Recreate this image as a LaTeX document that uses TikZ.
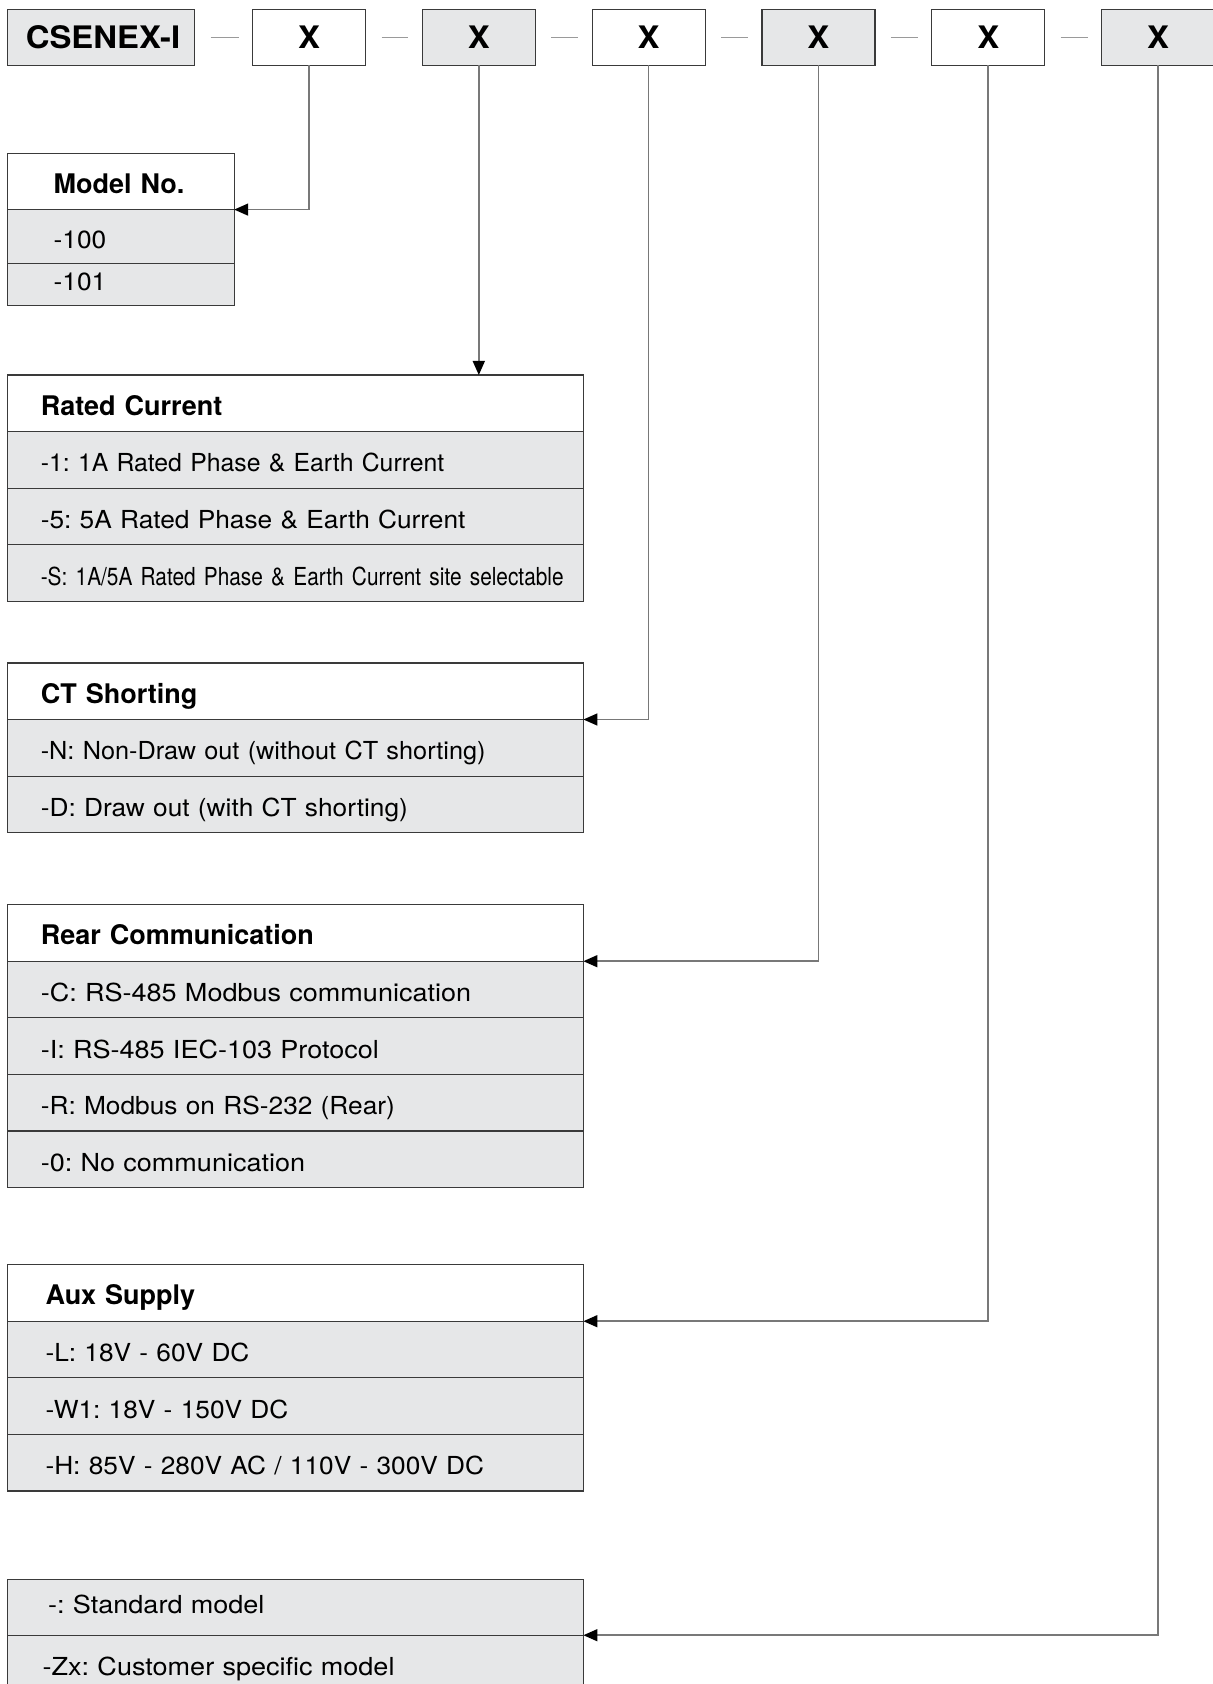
\documentclass[tikz,border=0pt]{standalone}
\usepackage{fontspec}
\setmainfont{TeX Gyre Heros}
\newfontfamily\bodyfont[FakeStretch=1.06]{TeX Gyre Heros}
\newfontfamily\broadfont[FakeStretch=1.09]{TeX Gyre Heros}
\newfontfamily\midfont[FakeStretch=1.02]{TeX Gyre Heros}
\newfontfamily\condfont[FakeStretch=0.84]{TeX Gyre Heros}
\newfontfamily\widebold[FakeStretch=1.06]{TeX Gyre Heros}
\usepackage{xcolor}
\usepackage{tikz}
\usetikzlibrary{arrows.meta,positioning}
\frenchspacing
\definecolor{cellgray}{HTML}{E6E7E8}
\definecolor{edgegray}{HTML}{3A3A3A}
\definecolor{wiregray}{HTML}{787878}
\definecolor{dashgray}{HTML}{9A9A9A}
\newcommand{\optfont}{\bodyfont\fontsize{12.4pt}{14pt}\selectfont}
\newcommand{\headfont}{\fontsize{13.5pt}{16pt}\selectfont\bfseries}
\newcommand{\codefont}{\widebold\fontsize{15.5pt}{18pt}\selectfont\bfseries}

\begin{document}
\begin{tikzpicture}[x=0.5pt,y=-0.5pt,
  every node/.style={outer sep=0pt},
  codebox/.style={rectangle,draw=edgegray,line width=0.6pt,minimum width=56.5pt,minimum height=27.75pt,inner sep=0pt,font=\codefont,text height=11pt,text depth=0pt},
  cell/.style={rectangle,draw=edgegray,fill=cellgray,line width=0.6pt,minimum height=28.3pt,inner ysep=0pt,align=left,font=\optfont,text height=12.5pt,text depth=0.5pt},
  head/.style={cell,fill=white,font=\headfont},
  capmid/.style={text height=9pt,text depth=2.5pt},
  narrow/.style={text width=67.15pt,inner xsep=23.1pt},
  wide/.style={text width=254.65pt,inner xsep=16.65pt},
  auxw/.style={text width=249.95pt,inner xsep=19pt},
  sep/.style={line width=0.5pt,color=dashgray},
  arr/.style={-{Triangle[length=7pt,width=6pt,color=black]},line width=0.75pt,color=wiregray}
]
\useasboundingbox (0,0) rectangle (1213,1684);

% ordering code
\node[codebox,fill=cellgray,minimum width=93.5pt] (code) at (101,37.5) {\hspace{2pt}CSENEX-I};
\node[codebox,fill=white] (x1) at (309,37.5) {X};
\node[codebox,fill=cellgray] (x2) at (478.8,37.5) {X};
\node[codebox,fill=white] (x3) at (648.6,37.5) {X};
\node[codebox,fill=cellgray] (x4) at (818.4,37.5) {X};
\node[codebox,fill=white] (x5) at (988.2,37.5) {X};
\node[codebox,fill=cellgray] (x6) at (1158,37.5) {X};

\draw[sep] ([xshift=8pt]code.east) -- ([xshift=-7pt]x1.west);
\draw[sep] ([xshift=8pt]x1.east) -- ([xshift=-7pt]x2.west);
\draw[sep] ([xshift=8pt]x2.east) -- ([xshift=-7pt]x3.west);
\draw[sep] ([xshift=8pt]x3.east) -- ([xshift=-7pt]x4.west);
\draw[sep] ([xshift=8pt]x4.east) -- ([xshift=-7pt]x5.west);
\draw[sep] ([xshift=8pt]x5.east) -- ([xshift=-7pt]x6.west);

% model no.
\node[head,narrow,anchor=north west,minimum height=28pt] (model-h) at (7.5,153.6) {Model No.};
\node[cell,narrow,minimum height=26.85pt,below=0pt of model-h] (model-1) {-100};
\node[cell,narrow,capmid,minimum height=20.95pt,below=0pt of model-1] (model-2) {-101};

% rated current
\node[head,wide,anchor=north west] (rated-h) at (7.5,375) {Rated Current};
\node[cell,wide,below=0pt of rated-h] (rated-1) {\rmfamily -1: 1A Rated Phase \& Earth Current};
\node[cell,wide,below=0pt of rated-1] (rated-5) {-5: 5A Rated Phase \& Earth Current};
\node[cell,wide,below=0pt of rated-5] (rated-s) {\mbox{\condfont -S: 1A/5A Rated Phase \& Earth Current site selectable}};

% ct shorting
\node[head,wide,anchor=north west] (ct-h) at (7.5,662.9) {CT Shorting};
\node[cell,wide,below=0pt of ct-h] (ct-n) {\midfont -N: Non-Draw out (without CT shorting)};
\node[cell,wide,below=0pt of ct-n] (ct-d) {-D: Draw out (with CT shorting)};

% rear communication
\node[head,wide,anchor=north west] (rear-h) at (7.5,904.6) {Rear Communication};
\node[cell,wide,below=0pt of rear-h] (rear-c) {\broadfont -C: RS-485 Modbus communication};
\node[cell,wide,below=0pt of rear-c] (rear-i) {\broadfont -I: RS-485 IEC-103 Protocol};
\node[cell,wide,below=0pt of rear-i] (rear-r) {-R: Modbus on RS-232 (Rear)};
\node[cell,wide,below=0pt of rear-r] (rear-0) {\broadfont -0: No communication};

% aux supply
\node[head,auxw,anchor=north west] (aux-h) at (7.5,1264.6) {Aux Supply};
\node[cell,auxw,below=0pt of aux-h] (aux-l) {-L: 18V - 60V DC};
\node[cell,auxw,below=0pt of aux-l] (aux-w) {-W1: 18V - 150V DC};
\node[cell,auxw,below=0pt of aux-w] (aux-hv) {-H: 85V - 280V AC / 110V - 300V DC};

% model variant
\node[cell,capmid,text width=247.25pt,inner xsep=20.35pt,anchor=north west,minimum height=27.9pt] (std) at (7.5,1579.4) {\broadfont -: Standard model};
\node[cell,text width=252.75pt,inner xsep=17.6pt,below=0pt of std] (cust) {\broadfont -Zx: Customer specific model};

% connectors
\draw[arr] (x1.south) |- (model-h.south east);
\draw[arr] (x2.south) -- (x2.south |- rated-h.north);
\draw[arr] (x3.south) |- (ct-h.south east);
\draw[arr] (x4.south) |- (rear-h.south east);
\draw[arr] (x5.south) |- (aux-h.south east);
\draw[arr] (x6.south) |- (std.south east);
\end{tikzpicture}
\end{document}
